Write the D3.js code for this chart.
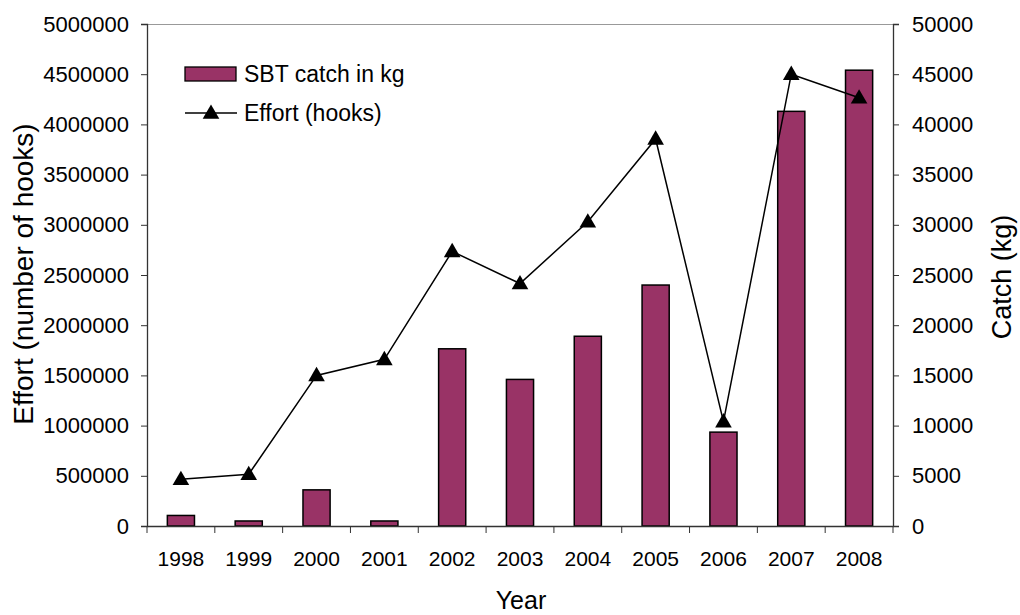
<!DOCTYPE html>
<html>
    <head>
        <meta charset="utf-8">
        <title>SBT catch and effort</title>
        <script src="https://d3js.org/d3.v7.min.js"></script>
        <style>
            body { margin: 0; background: #fff; }
            text { font-family: "Liberation Sans", Arial, sans-serif; fill: #000; }
        </style>
    </head>
    <body>
        <svg width="1020" height="615"></svg>
        <script>
            // data
            const years = ["1998","1999","2000","2001","2002","2003","2004","2005","2006","2007","2008"]
            const catchKg = [1050, 500, 3600, 500, 17650, 14600, 18900, 24000, 9350, 41300, 45400]
            const effortHooks = [465000, 515000, 1500000, 1660000, 2735000, 2415000, 3030000, 3855000, 1040000, 4500000, 4265000]
            const leftTicks = d3.range(0, 5000001, 500000)
            const rightTicks = d3.range(0, 50001, 5000)

            const svg = d3.select("svg")
            const plotL = 147, plotR = 893, plotT = 24, plotB = 526

            const x = d3.scaleBand().domain(years).range([plotL, plotR]).paddingInner(0.6).paddingOuter(0.3)
            const xTick = d3.scaleBand().domain(years).range([plotL, plotR])
            const yL = d3.scaleLinear().domain([0, 5000000]).range([plotB, plotT])
            const yR = d3.scaleLinear().domain([0, 50000]).range([plotB, plotT])

            // top border of plot area
            svg.append("line")
                .attr("x1", plotL).attr("x2", plotR)
                .attr("y1", plotT + 0.5).attr("y2", plotT + 0.5)
                .attr("stroke", "#999").attr("stroke-width", 1)

            // bars
            svg.append("g").selectAll("rect")
                .data(catchKg)
                .enter().append("rect")
                    .attr("x", (d, i) => x(years[i]))
                    .attr("width", x.bandwidth())
                    .attr("y", d => yR(d))
                    .attr("height", d => plotB - yR(d))
                    .attr("fill", "#993366")
                    .attr("stroke", "#000")
                    .attr("stroke-width", 1.5)

            // left axis
            const gL = svg.append("g").attr("transform", "translate(" + plotL + ",0)")
                .call(d3.axisLeft(yL).tickValues(leftTicks).tickSize(6).tickPadding(12).tickFormat(d3.format("d")))
            // right axis
            const gR = svg.append("g").attr("transform", "translate(" + plotR + ",0)")
                .call(d3.axisRight(yR).tickValues(rightTicks).tickSize(6).tickPadding(13).tickFormat(d3.format("d")))
            // bottom axis
            const gB = svg.append("g").attr("transform", "translate(0," + plotB + ")")
                .call(d3.axisBottom(xTick).tickSize(0).tickPadding(25))
            // category boundary ticks
            gB.selectAll("line.bound")
                .data(d3.range(years.length + 1))
                .enter().append("line")
                    .attr("class", "bound")
                    .attr("x1", i => plotL + i * xTick.step())
                    .attr("x2", i => plotL + i * xTick.step())
                    .attr("y1", 0).attr("y2", 7)
                    .attr("stroke", "#333")

            ;[gL, gR, gB].forEach(g => {
                g.select(".domain").attr("stroke", "#333").attr("stroke-width", 1.3)
                g.selectAll(".tick line").attr("stroke", "#333")
                g.selectAll("text").style("font-size", "22px").style("font-family", "Liberation Sans, Arial, sans-serif").attr("fill", "#000")
            })
            gB.selectAll(".tick text").style("font-size", "21px").attr("dy", "0.71em")

            // effort line
            const line = d3.line()
                .x((d, i) => xTick(years[i]) + xTick.bandwidth() / 2)
                .y(d => yL(d))
            svg.append("path")
                .datum(effortHooks)
                .attr("d", line)
                .attr("fill", "none")
                .attr("stroke", "#000")
                .attr("stroke-width", 1.5)

            const tri = d3.symbol().type(d3.symbolTriangle).size(120)
            svg.append("g").selectAll("path")
                .data(effortHooks)
                .enter().append("path")
                    .attr("d", tri)
                    .attr("transform", (d, i) => "translate(" + (xTick(years[i]) + xTick.bandwidth() / 2) + "," + (yL(d) + 1) + ")")
                    .attr("fill", "#000")

            // axis titles
            svg.append("text")
                .attr("transform", "translate(33,274) rotate(-90)")
                .attr("text-anchor", "middle")
                .style("font-size", "28px")
                .text("Effort (number of hooks)")
            svg.append("text")
                .attr("transform", "translate(1011,277) rotate(-90)")
                .attr("text-anchor", "middle")
                .style("font-size", "27px")
                .text("Catch (kg)")
            svg.append("text")
                .attr("x", 521).attr("y", 609)
                .attr("text-anchor", "middle")
                .style("font-size", "25px")
                .text("Year")

            // legend
            const lg = svg.append("g")
            lg.append("rect")
                .attr("x", 185).attr("y", 67).attr("width", 51).attr("height", 14)
                .attr("fill", "#993366").attr("stroke", "#000").attr("stroke-width", 1.3)
            lg.append("text").attr("x", 244).attr("y", 82).style("font-size", "23px").text("SBT catch in kg")
            lg.append("line")
                .attr("x1", 185).attr("x2", 237).attr("y1", 113).attr("y2", 113)
                .attr("stroke", "#000").attr("stroke-width", 1.5)
            lg.append("path").attr("d", tri).attr("transform", "translate(211,114)").attr("fill", "#000")
            lg.append("text").attr("x", 244).attr("y", 121).style("font-size", "23px").text("Effort (hooks)")
        </script>
    </body>
</html>
